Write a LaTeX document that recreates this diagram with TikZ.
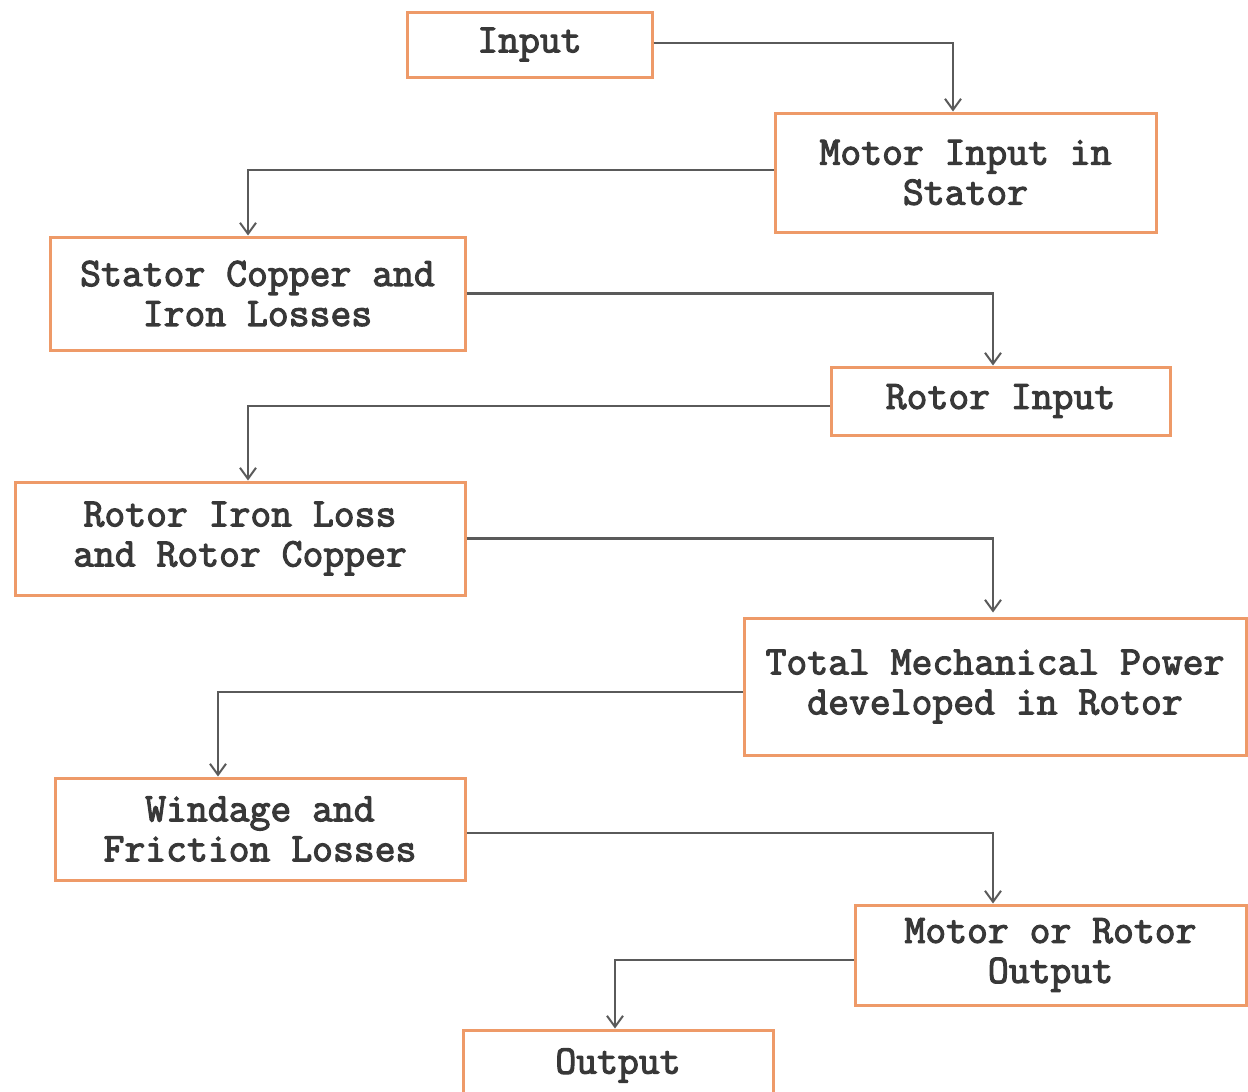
\documentclass[tikz,border=0pt]{standalone}
\usepackage{fontspec}
\setmonofont{Latin Modern Mono}[AutoFakeBold=2.8]
\usetikzlibrary{arrows.meta,calc}
\definecolor{boxline}{HTML}{EE9A68}
\definecolor{arrline}{HTML}{5A5A5A}
\definecolor{txt}{HTML}{383838}
\tikzset{
  blk/.style={draw=boxline, line width=3pt, fill=white, text=txt, align=center,
    inner sep=0pt, font=\ttfamily\bfseries\fontsize{40.5}{40}\selectfont},
  arr/.style={draw=arrline, line width=2.2pt, -{Straight Barb[length=11pt,width=16pt,line width=2pt]}}
}
\begin{document}
\begin{tikzpicture}[x=1pt,y=-1pt]
\useasboundingbox[fill=white] (0,0) rectangle (1248,1092);
\node[blk, minimum width=245, minimum height=65] (in) at (529.5,44.5) {Input};
\node[blk, minimum width=381, minimum height=119] (mi) at (965.5,172.5) {Motor Input in\\Stator};
\node[blk, minimum width=415, minimum height=113] (sc) at (257.5,293.5) {Stator Copper and\\Iron Losses};
\node[blk, minimum width=339, minimum height=68] (ri) at (1000.5,401) {Rotor Input};
\node[blk, minimum width=450, minimum height=113] (rl) at (240,538.5) {Rotor Iron Loss\\and Rotor Copper};
\node[blk, minimum width=502, minimum height=137] (tm) at (995,686.5) {Total Mechanical Power\\developed in Rotor};
\node[blk, minimum width=410, minimum height=102] (wf) at (260,829) {Windage and\\Friction Losses};
\node[blk, minimum width=391, minimum height=100] (mo) at (1050.5,955) {Motor or Rotor\\Output};
\node[blk, minimum width=310, minimum height=66, text depth=0pt] (out) at (618,1063) {\raisebox{4pt}{Output}};

\draw[arr] ([yshift=1.5]in.east) -| ([xshift=-12.5]mi.north);
\draw[arr] ([yshift=2.5]mi.west) -| ([xshift=-9.5]sc.north);
\draw[arr] (sc.east) -| ([xshift=-7.5]ri.north);
\draw[arr] ([yshift=-5]ri.west) -| ([xshift=8]rl.north);
\draw[arr] (rl.east) -| ([xshift=-2,yshift=4]tm.north);
\draw[arr] ([yshift=-5.5]tm.west) -| ([xshift=-42]wf.north);
\draw[arr] ([yshift=-4]wf.east) -| ([xshift=-57.5]mo.north);
\draw[arr] ([yshift=-5]mo.west) -| ([xshift=-3]out.north);
\end{tikzpicture}
\end{document}
